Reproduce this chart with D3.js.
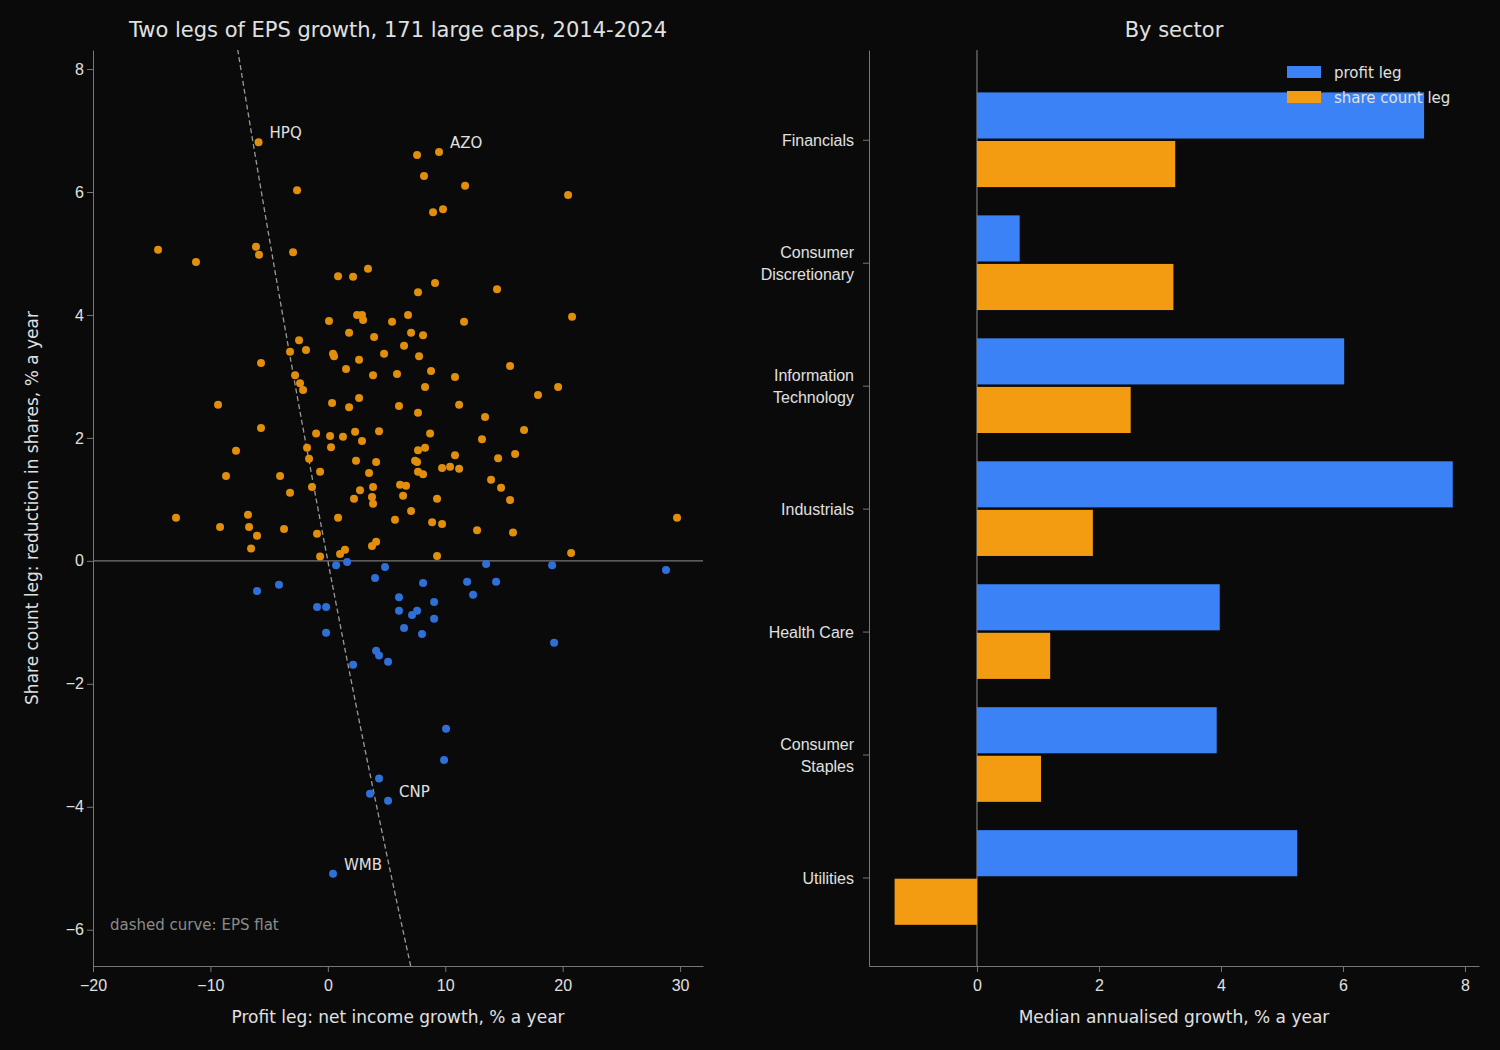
<!DOCTYPE html>
<html lang="en">
<head>
  <meta charset="UTF-8" />
  <title>Two legs of EPS growth</title>
  <script src="https://d3js.org/d3.v7.min.js"></script>
  <style>
    html, body { margin: 0; background: #0a0a0a; }
    svg { display: block; font-family: "DejaVu Sans", sans-serif; }
    .tick text { fill: #e0e0e0; font-size: 16px; }
    .tick line, .domain { stroke: #777; }
  </style>
</head>
<body>
<svg id="chart" width="1500" height="1050"></svg>
<script>
  // scatter: [profit leg, share count leg]
  const companies = [
    [-5.9,6.81],[7.6,6.6],[9.47,6.65],[8.19,6.26],[-2.62,6.03],[11.69,6.1],[20.46,5.95],[8.96,5.67],[9.81,5.72],
    [-14.46,5.06],[-6.12,5.11],[-5.86,4.98],[-2.96,5.02],[-11.23,4.86],[0.87,4.63],[2.15,4.62],[3.42,4.75],
    [9.13,4.52],[14.41,4.42],[20.8,3.97],[7.68,4.37],[2.49,4.0],[2.91,4.0],[3.0,3.92],[0.1,3.9],[5.47,3.89],
    [6.83,4.0],[11.6,3.89],[1.81,3.71],[3.94,3.64],[8.11,3.67],[7.09,3.71],[-2.45,3.59],[-3.22,3.4],[-1.86,3.43],
    [0.44,3.37],[0.53,3.33],[4.79,3.37],[6.49,3.5],[2.66,3.27],[7.77,3.33],[-5.69,3.22],[-2.79,3.02],[1.55,3.12],
    [3.85,3.02],[5.89,3.04],[8.79,3.09],[15.52,3.17],[-2.37,2.89],[-2.11,2.78],[8.28,2.83],[10.83,2.99],[19.61,2.83],
    [-9.35,2.54],[0.36,2.57],[2.66,2.65],[1.81,2.5],[6.06,2.52],[7.68,2.41],[11.18,2.54],[17.9,2.7],[13.39,2.34],
    [-5.69,2.16],[-1.0,2.07],[0.19,2.03],[0.27,1.85],[1.29,2.02],[2.32,2.1],[2.91,1.95],[4.36,2.11],[8.71,2.07],
    [13.13,1.98],[16.71,2.13],[-7.82,1.79],[-1.77,1.84],[-1.6,1.66],[2.4,1.63],[4.11,1.61],[7.68,1.8],[8.28,1.84],
    [10.83,1.72],[14.5,1.67],[15.95,1.74],[7.43,1.63],[7.6,1.61],[3.51,1.43],[7.68,1.45],[8.11,1.41],[9.73,1.51],
    [10.41,1.53],[11.18,1.5],[-8.67,1.38],[-4.07,1.38],[-0.66,1.45],[-1.35,1.2],[3.85,1.2],[6.15,1.24],[6.66,1.22],
    [2.74,1.15],[2.23,1.01],[3.76,1.04],[6.41,1.06],[9.3,1.01],[13.9,1.32],[14.75,1.19],[15.52,0.99],[-3.22,1.11],
    [3.85,0.93],[-6.8,0.75],[0.87,0.7],[5.72,0.67],[7.09,0.81],[-12.93,0.7],[-9.18,0.55],[-6.71,0.55],[-3.73,0.52],
    [8.88,0.63],[9.73,0.6],[12.71,0.5],[15.77,0.46],[-6.03,0.41],[-6.54,0.2],[-0.92,0.44],[1.46,0.18],[1.04,0.11],
    [3.76,0.24],[4.11,0.31],[-0.66,0.07],[9.3,0.08],[20.72,0.13],[29.74,0.7],
    [-6.03,-0.49],[-4.16,-0.39],[-0.92,-0.75],[-0.15,-0.75],[-0.15,-1.17],[0.7,-0.07],[1.64,-0.02],[4.02,-0.28],
    [4.87,-0.1],[6.06,-0.59],[6.06,-0.81],[6.49,-1.09],[7.17,-0.88],[7.6,-0.81],[8.11,-0.36],[8.02,-1.19],
    [9.05,-0.67],[9.05,-0.94],[11.86,-0.34],[13.48,-0.05],[14.33,-0.34],[12.37,-0.55],[19.1,-0.07],[28.8,-0.15],
    [2.15,-1.69],[4.11,-1.46],[4.36,-1.54],[5.13,-1.64],[19.27,-1.33],[10.07,-2.73],[9.9,-3.24],[4.36,-3.54],
    [3.59,-3.79],[5.13,-3.9],[0.44,-5.09]
  ];
  const labelled = [
    { name: "HPQ", p: -5.9, s: 6.81 },
    { name: "AZO", p: 9.47, s: 6.65 },
    { name: "CNP", p: 5.13, s: -3.9 },
    { name: "WMB", p: 0.44, s: -5.09 }
  ];
  const sectors = ["Financials", "Consumer\nDiscretionary", "Information\nTechnology", "Industrials",
                   "Health Care", "Consumer\nStaples", "Utilities"];
  const profitLeg = [7.33, 0.7, 6.02, 7.8, 3.98, 3.93, 5.25];
  const shareLeg = [3.25, 3.22, 2.52, 1.9, 1.2, 1.05, -1.35];

  const orange = "#f39c12", blue = "#3b82f6", textCol = "#e0e0e0";
  const svg = d3.select("#chart");

  // ---------- left: scatter ----------
  const x = d3.scaleLinear().domain([-20, 31.95]).range([93, 703]);
  const y = d3.scaleLinear().domain([-6.59, 8.31]).range([966, 50]);
  const left = svg.append("g");

  left.append("line").attr("x1", 93).attr("x2", 703).attr("y1", y(0)).attr("y2", y(0))
    .attr("stroke", "#777").attr("stroke-width", 1.2);

  // EPS flat: (1 + p)(1 + s) = 1
  const flat = d3.range(-6.59, 8.32, 0.1).map(s => [100 * (1 / (1 + s / 100) - 1), s]);
  left.append("path").datum(flat)
    .attr("d", d3.line().x(d => x(d[0])).y(d => y(d[1])))
    .attr("fill", "none").attr("stroke", "#999").attr("stroke-width", 1.3).attr("stroke-dasharray", "5,3");

  left.selectAll("circle").data(companies).join("circle")
    .attr("cx", d => x(d[0])).attr("cy", d => y(d[1])).attr("r", 4)
    .attr("fill", d => d[1] >= 0 ? "#e08e0b" : "#2f6fd8");

  left.selectAll(".lbl").data(labelled).join("text")
    .attr("x", d => x(d.p) + 11).attr("y", d => y(d.s) - 4)
    .attr("fill", textCol).attr("font-size", 15).text(d => d.name);

  left.append("text").attr("x", 110).attr("y", 930).attr("fill", "#8a8a8a").attr("font-size", 15)
    .text("dashed curve: EPS flat");

  left.append("g").attr("transform", "translate(0,966)")
    .call(d3.axisBottom(x).tickValues([-20, -10, 0, 10, 20, 30]).tickFormat(d => d < 0 ? "\u2212" + (-d) : d).tickSizeOuter(0))
    .selectAll("text").attr("dy", "1em");
  left.append("g").attr("transform", "translate(93,0)")
    .call(d3.axisLeft(y).tickValues([-6, -4, -2, 0, 2, 4, 6, 8]).tickFormat(d => d < 0 ? "\u2212" + (-d) : d).tickSizeOuter(0));

  left.append("text").attr("x", 398).attr("y", 37).attr("text-anchor", "middle")
    .attr("fill", textCol).attr("font-size", 21).text("Two legs of EPS growth, 171 large caps, 2014-2024");
  left.append("text").attr("x", 398).attr("y", 1023).attr("text-anchor", "middle")
    .attr("fill", textCol).attr("font-size", 17).text("Profit leg: net income growth, % a year");
  left.append("text").attr("transform", "translate(38,508) rotate(-90)").attr("text-anchor", "middle")
    .attr("fill", textCol).attr("font-size", 17).text("Share count leg: reduction in shares, % a year");

  // ---------- right: bars ----------
  const bx = d3.scaleLinear().domain([-1.77, 8.23]).range([869, 1479]);
  const by = d3.scaleLinear().domain([-0.73, 6.72]).range([50, 966]);
  const bh = 0.375;
  const right = svg.append("g");

  right.append("line").attr("x1", bx(0)).attr("x2", bx(0)).attr("y1", 50).attr("y2", 966)
    .attr("stroke", "#777").attr("stroke-width", 1.2);

  right.selectAll(".pb").data(profitLeg).join("rect")
    .attr("x", d => bx(Math.min(0, d))).attr("width", d => Math.abs(bx(d) - bx(0)))
    .attr("y", (d, i) => by(i - bh - 0.01)).attr("height", by(bh) - by(0))
    .attr("fill", blue);
  right.selectAll(".sb").data(shareLeg).join("rect")
    .attr("x", d => bx(Math.min(0, d))).attr("width", d => Math.abs(bx(d) - bx(0)))
    .attr("y", (d, i) => by(i + 0.01)).attr("height", by(bh) - by(0))
    .attr("fill", orange);

  right.append("g").attr("transform", "translate(0,966)")
    .call(d3.axisBottom(bx).tickValues([0, 2, 4, 6, 8]).tickSizeOuter(0))
    .selectAll("text").attr("dy", "1em");
  const ya = right.append("g").attr("transform", "translate(869,0)")
    .call(d3.axisLeft(by).tickValues(d3.range(sectors.length)).tickFormat("").tickSizeOuter(0));
  ya.selectAll(".tick").each(function(d) {
    const lines = sectors[d].split("\n");
    const t = d3.select(this).append("text").attr("x", -15).attr("text-anchor", "end")
      .attr("fill", textCol).attr("font-size", 17);
    lines.forEach((l, k) => t.append("tspan").attr("x", -15)
      .attr("y", (k - (lines.length - 1) / 2) * 22 + 6).text(l));
  });

  // legend
  const legend = [["profit leg", blue], ["share count leg", orange]];
  legend.forEach(([name, c], i) => {
    right.append("rect").attr("x", 1287).attr("y", 66 + i * 25).attr("width", 34).attr("height", 12).attr("fill", c);
    right.append("text").attr("x", 1334).attr("y", 78 + i * 25).attr("fill", textCol).attr("font-size", 15).text(name);
  });

  right.append("text").attr("x", 1174).attr("y", 37).attr("text-anchor", "middle")
    .attr("fill", textCol).attr("font-size", 21).text("By sector");
  right.append("text").attr("x", 1174).attr("y", 1023).attr("text-anchor", "middle")
    .attr("fill", textCol).attr("font-size", 17).text("Median annualised growth, % a year");
</script>
</body>
</html>
